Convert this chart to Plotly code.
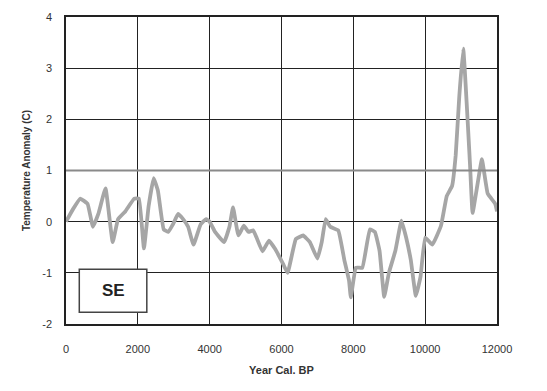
import plotly.graph_objects as go

years = [0, 200, 400, 600, 750, 900, 1100, 1300, 1450, 1650, 1900, 2030, 2170, 2300, 2440,
         2560, 2720, 2850, 2980, 3120, 3260, 3400, 3550, 3750, 3900, 4000, 4150, 4400, 4550,
         4650, 4800, 4950, 5080, 5210, 5300, 5470, 5650, 5820, 6040, 6170, 6400, 6600, 6790,
         7000, 7120, 7230, 7360, 7580, 7750, 7880, 7930, 8070, 8250, 8460, 8600, 8730, 8860,
         8990, 9170, 9340, 9470, 9600, 9740, 9870, 10000, 10200, 10440, 10600, 10750, 10850,
         10950, 11060, 11250, 11320, 11450, 11580, 11740, 11950, 12000]
anomaly = [0.0, 0.25, 0.45, 0.35, -0.1, 0.15, 0.65, -0.4, 0.05, 0.2, 0.45, 0.45, -0.52, 0.3, 0.85,
           0.6, -0.15, -0.2, -0.05, 0.15, 0.05, -0.1, -0.45, -0.05, 0.05, 0.0, -0.2, -0.4, -0.1,
           0.28, -0.27, -0.08, -0.2, -0.17, -0.3, -0.58, -0.37, -0.53, -0.82, -1.0, -0.34, -0.27, -0.4,
           -0.72, -0.4, 0.05, -0.1, -0.17, -0.75, -1.15, -1.48, -0.9, -0.9, -0.15, -0.2, -0.57, -1.47,
           -1.0, -0.57, 0.02, -0.31, -0.75, -1.45, -1.08, -0.31, -0.45, -0.08, 0.5, 0.7, 1.3,
           2.45, 3.38, 1.1, 0.17, 0.7, 1.22, 0.55, 0.35, 0.2]

x_ticks = [0, 2000, 4000, 6000, 8000, 10000, 12000]
y_ticks = [-2, -1, 0, 1, 2, 3, 4]
region_label = "SE"

FONT = "Liberation Sans, Arial, sans-serif"

fig = go.Figure()
fig.add_trace(go.Scatter(x=years, y=anomaly, mode="lines",
                         line=dict(color="#a6a6a6", width=3.8, shape="spline", smoothing=0.3),
                         showlegend=False))

# emphasised reference line at +1
fig.add_shape(type="line", xref="x", yref="y", x0=0, x1=12000, y0=1, y1=1,
              line=dict(color="#8a8a8a", width=2), layer="above")

# label box
fig.add_shape(type="rect", xref="x", yref="y", x0=370, x1=2250, y0=-1.77, y1=-0.93,
              line=dict(color="#444444", width=1.5), fillcolor="white", layer="above")
fig.add_annotation(x=1310, y=-1.35, xref="x", yref="y", text="<b>" + region_label + "</b>",
                   showarrow=False, font=dict(family=FONT, size=17, color="#222222"))

fig.update_layout(
    width=547, height=391,
    margin=dict(l=66, r=50, t=17, b=67),
    paper_bgcolor="white", plot_bgcolor="white",
    font=dict(family=FONT, size=11, color="#333333"),
)
fig.update_xaxes(range=[0, 12000], tickvals=x_ticks, ticktext=[str(v) for v in x_ticks],
                 showgrid=True, gridcolor="#222222", gridwidth=1,
                 showline=True, linecolor="#222222", linewidth=1.5, mirror=True,
                 zeroline=False, ticks="", ticklabelstandoff=14,
                 tickfont=dict(family=FONT, size=11, color="#333333"),
                 title=dict(text="<b>Year Cal. BP</b>", standoff=12,
                            font=dict(family=FONT, size=11, color="#333333")))
fig.update_yaxes(range=[-2, 4], tickvals=y_ticks, ticktext=[str(v) for v in y_ticks],
                 showgrid=True, gridcolor="#222222", gridwidth=1,
                 showline=True, linecolor="#222222", linewidth=1.5, mirror=True,
                 zeroline=False, ticks="", ticklabelstandoff=10,
                 tickfont=dict(family=FONT, size=11, color="#333333"),
                 title=dict(text="<b>Temperature Anomaly (C)</b>", standoff=10,
                            font=dict(family=FONT, size=10, color="#333333")))

fig.write_html("out.html")
